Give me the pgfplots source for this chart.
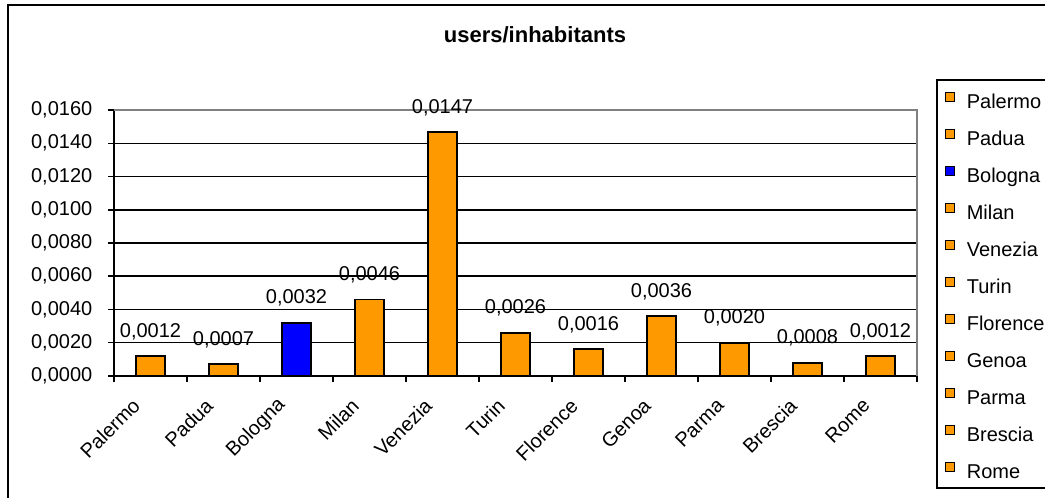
\documentclass[border=0pt]{standalone}
\usepackage{pgfplots}
\pgfplotsset{compat=1.18}
\usepackage{fontspec}
\setmainfont{Liberation Sans}
\definecolor{barorange}{HTML}{FF9900}
\definecolor{barblue}{HTML}{0000FF}
\definecolor{bordergray}{HTML}{808080}
\newcommand{\lblfont}{\fontsize{10}{12}\selectfont}
\begin{document}
\begin{tikzpicture}
\useasboundingbox (0,0) rectangle (522.5pt,249pt);
\clip (0,0) rectangle (522.5pt,249pt);
\draw[line width=1pt] (4pt,-10pt) rectangle (560pt,246.5pt);
\node[anchor=base, font=\fontsize{11}{13}\selectfont\bfseries, inner sep=0pt] at (267.5pt,227.75pt) {users/inhabitants};
\begin{axis}[
  at={(57pt,61pt)}, anchor=south west,
  scale only axis, width=401.5pt, height=133pt,
  ybar, bar width=14.6pt, bar shift=0pt,
  xmin=-0.5, xmax=10.5, ymin=0, ymax=0.016,
  axis x line*=bottom, axis y line*=left,
  axis line style={black, line width=0.75pt},
  xtick={-0.5,0.5,...,10.5}, xticklabels={},
  extra x ticks={0,1,2,3,4,5,6,7,8,9,10},
  extra x tick labels={Palermo,Padua,Bologna,Milan,Venezia,Turin,Florence,Genoa,Parma,Brescia,Rome},
  extra x tick style={major tick length=0pt, grid=none},
  ytick={0,0.002,0.004,0.006,0.008,0.01,0.012,0.014,0.016},
  scaled y ticks=false,
  yticklabel={\pgfmathprintnumber[fixed,fixed zerofill,precision=4,use comma,assume math mode=true]{\tick}},
  tick align=outside, major tick length=3pt,
  tick style={black, line width=0.75pt},
  ymajorgrids, major grid style={black, line width=0.75pt},
  yticklabel style={font=\lblfont, anchor=east, inner sep=0pt, xshift=-7.65pt},
  xticklabel style={font=\lblfont, inner sep=0pt, xshift=-7pt, yshift=-13pt, rotate=45, anchor=east},
  nodes near coords={\pgfmathprintnumber[fixed,fixed zerofill,precision=4,use comma,assume math mode=true]{\pgfplotspointmeta}},
  every node near coord/.append style={font=\lblfont, anchor=base, inner sep=0pt, yshift=9.5pt, black},
  legend image code/.code={\draw[#1, line width=0.7pt] (0pt,0pt) rectangle (4.5pt,4.5pt);},
  legend cell align=left,
  legend style={at={(1.02366,1.11654)}, anchor=north west, draw=black, line width=0.8pt,
    font=\lblfont, inner xsep=4pt, inner ysep=1pt, row sep=1.5pt, column sep=5.8pt,
    nodes={inner sep=0pt, text height=13.1pt, text depth=3.9pt},
    /tikz/every odd column/.append style={yshift=-1.4pt}},
  clip=false,
]
\addplot[fill=barorange, draw=black, line width=0.9pt] coordinates {(0,0.0012)};
\addlegendentry{Palermo}
\addplot[fill=barorange, draw=black, line width=0.9pt] coordinates {(1,0.0007)};
\addlegendentry{Padua}
\addplot[fill=barblue, draw=black, line width=0.9pt] coordinates {(2,0.0032)};
\addlegendentry{Bologna}
\addplot[fill=barorange, draw=black, line width=0.9pt] coordinates {(3,0.0046)};
\addlegendentry{Milan}
\addplot[fill=barorange, draw=black, line width=0.9pt] coordinates {(4,0.01466)};
\addlegendentry{Venezia}
\addplot[fill=barorange, draw=black, line width=0.9pt] coordinates {(5,0.0026)};
\addlegendentry{Turin}
\addplot[fill=barorange, draw=black, line width=0.9pt] coordinates {(6,0.0016)};
\addlegendentry{Florence}
\addplot[fill=barorange, draw=black, line width=0.9pt] coordinates {(7,0.0036)};
\addlegendentry{Genoa}
\addplot[fill=barorange, draw=black, line width=0.9pt] coordinates {(8,0.0020)};
\addlegendentry{Parma}
\addplot[fill=barorange, draw=black, line width=0.9pt] coordinates {(9,0.0008)};
\addlegendentry{Brescia}
\addplot[fill=barorange, draw=black, line width=0.9pt] coordinates {(10,0.0012)};
\addlegendentry{Rome}
\draw[bordergray, line width=0.9pt] (rel axis cs:0,1) -- (rel axis cs:1,1) -- (rel axis cs:1,0);
\end{axis}
\end{tikzpicture}
\end{document}
